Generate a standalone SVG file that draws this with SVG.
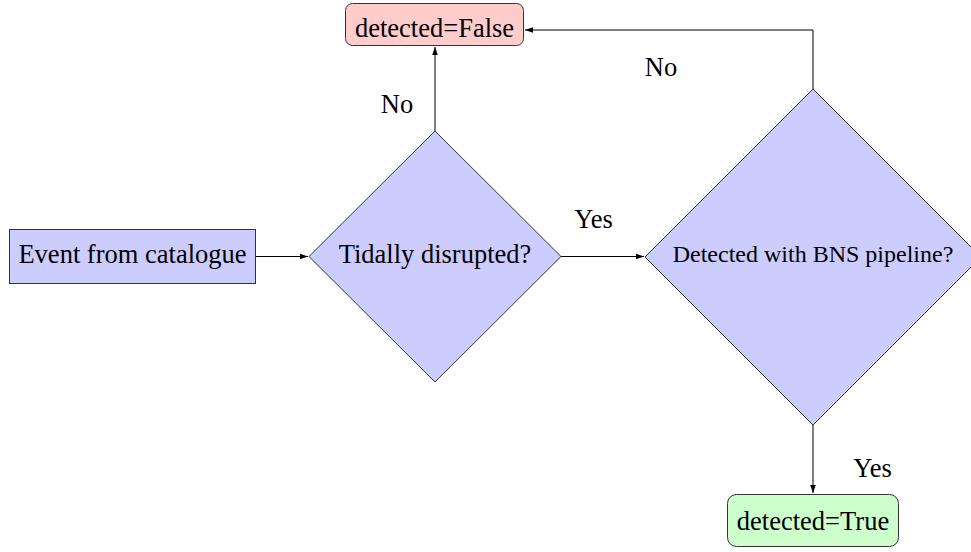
<svg xmlns="http://www.w3.org/2000/svg" width="971" height="552" viewBox="0 0 971 552">
<defs>
<marker id="ah" viewBox="0 0 10 10" refX="10" refY="5" markerWidth="8" markerHeight="8" markerUnits="userSpaceOnUse" orient="auto">
<path d="M0,1.5 L10,5 L0,8.5 Z" fill="#000"/>
</marker>
</defs>
<style>
text{font-family:"Liberation Serif","Times New Roman",serif;fill:#000;}
.lbl{font-size:26.5px;}
.small{font-size:24px;}
.node{stroke:#333;stroke-width:1;}
.blue{fill:#ccccff;}
.red{fill:#ffcccc;}
.green{fill:#ccffcc;}
.edge{fill:none;stroke:#000;stroke-width:1;marker-end:url(#ah);}
</style>
<rect width="971" height="552" fill="#fff"/>
<g id="connectors">
<path class="edge" d="M256,256.5 H308"/>
<path class="edge" d="M561,256.5 H644"/>
<path class="edge" d="M435,131 V47"/>
<path class="edge" d="M813,89 V30 H525"/>
<path class="edge" d="M813,423 V493"/>
<text class="lbl" x="397" y="113" text-anchor="middle">No</text>
<text class="lbl" x="661" y="76" text-anchor="middle">No</text>
<text class="lbl" x="593.5" y="228" text-anchor="middle">Yes</text>
<text class="lbl" x="872.5" y="477" text-anchor="middle">Yes</text>
</g>
<g id="event">
<rect class="node blue" x="9.5" y="229.5" width="246" height="54"/>
<text class="lbl" x="132.5" y="263" text-anchor="middle">Event from catalogue</text>
</g>
<g id="tidal">
<polygon class="node blue" points="435,131 561,256.5 435,382 309,256.5"/>
<text class="lbl" x="435" y="263" text-anchor="middle">Tidally disrupted?</text>
</g>
<g id="bns">
<polygon class="node blue" points="813,89 981,257 813,425 645,257"/>
<text class="small" x="813" y="262" text-anchor="middle">Detected with BNS pipeline?</text>
</g>
<g id="false">
<rect class="node red" x="345.5" y="3.5" width="178" height="42" rx="7"/>
<text class="lbl" x="434.5" y="37" text-anchor="middle">detected=False</text>
</g>
<g id="true">
<rect class="node green" x="727.5" y="494.5" width="171" height="52" rx="9"/>
<text class="lbl" x="813" y="530" text-anchor="middle">detected=True</text>
</g>
</svg>
